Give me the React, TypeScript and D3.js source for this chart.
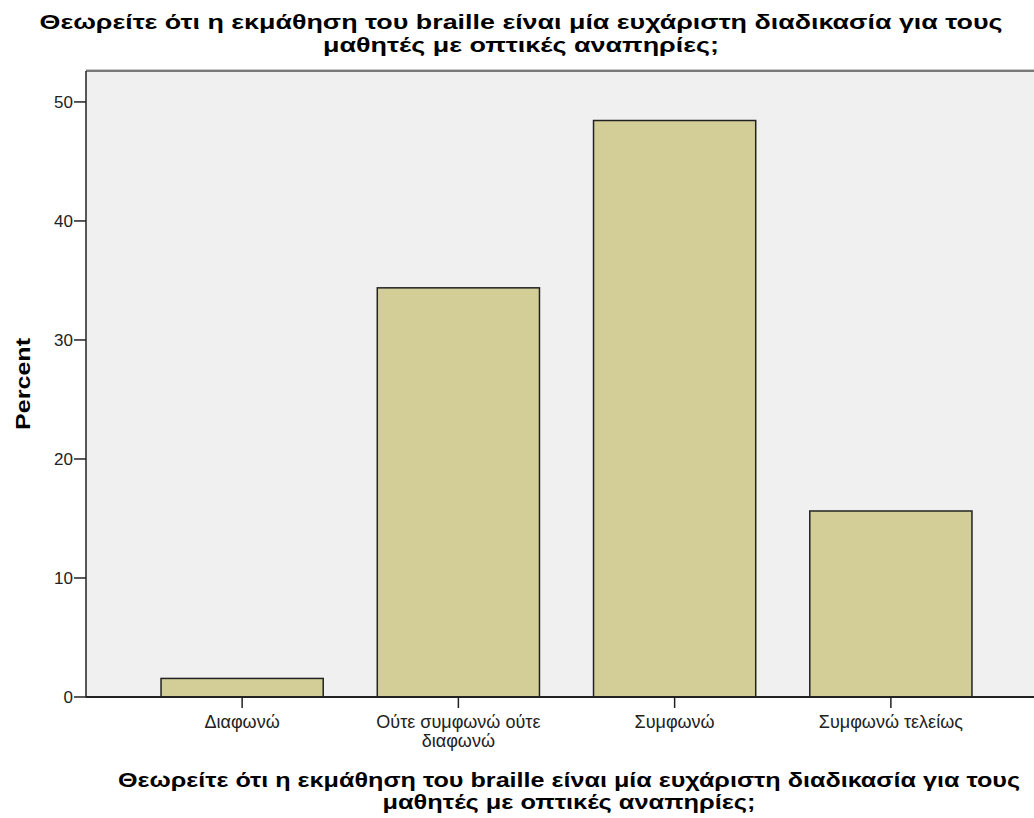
import React from "react";
import * as d3 from "d3";

const categories: string[][] = [
  ["Διαφωνώ"],
  ["Ούτε συμφωνώ ούτε", "διαφωνώ"],
  ["Συμφωνώ"],
  ["Συμφωνώ τελείως"],
];
const percents: number[] = [1.56, 34.38, 48.44, 15.63];
const yTicks: number[] = [0, 10, 20, 30, 40, 50];
const titleLines: string[] = [
  "Θεωρείτε ότι η εκμάθηση του braille είναι μία ευχάριστη διαδικασία για τους",
  "μαθητές με οπτικές αναπηρίες;",
];
const yLabel = "Percent";

const W = 1034;
const H = 818;
const left = 86;
const right = 1047;
const top = 71;
const bottom = 697;

export default function App() {
  const x = d3
    .scaleBand<number>()
    .domain(d3.range(categories.length))
    .range([left, right])
    .paddingInner(0.25)
    .paddingOuter(0.347);
  const y = d3.scaleLinear().domain([0, 52.6]).range([bottom, top]);
  const font = "'Liberation Sans', Arial, sans-serif";

  return (
    <svg
      width={W}
      height={H}
      style={{ position: "absolute", left: 0, top: 0, background: "#fff" }}
      fontFamily={font}
    >
      {/* title */}
      <text x={521} y={29} fontSize={21} fontWeight="bold" textAnchor="middle" textLength={963} lengthAdjust="spacingAndGlyphs" fill="#000">
        {titleLines[0]}
      </text>
      <text x={521} y={52} fontSize={21} fontWeight="bold" textAnchor="middle" textLength={396} lengthAdjust="spacingAndGlyphs" fill="#000">
        {titleLines[1]}
      </text>

      {/* plot background */}
      <rect x={left} y={top} width={right - left} height={bottom - top} fill="#f0f0f0" />
      <line x1={left} x2={W} y1={top - 1.5} y2={top - 1.5} stroke="#c8c8c8" strokeWidth={1} />
      <line x1={left} x2={W} y1={top} y2={top} stroke="#7a7a7a" strokeWidth={2} />

      {/* bars */}
      {percents.map((v, i) => (
        <rect
          key={i}
          x={x(i)!}
          y={y(v)}
          width={x.bandwidth()}
          height={bottom - y(v)}
          fill="#d3ce97"
          stroke="#222"
          strokeWidth={1.5}
        />
      ))}

      {/* y axis */}
      <line x1={left} x2={left} y1={top} y2={bottom} stroke="#222" strokeWidth={1.5} />
      {yTicks.map((t) => (
        <g key={t}>
          <line x1={left - 12} x2={left} y1={y(t)} y2={y(t)} stroke="#222" strokeWidth={1.5} />
          <text x={left - 13} y={y(t) + 6} fontSize={17} textAnchor="end" fill="#222">
            {t}
          </text>
        </g>
      ))}
      <text
        transform={`translate(30,${(top + bottom) / 2}) rotate(-90)`}
        fontSize={20}
        fontWeight="bold"
        textAnchor="middle"
        textLength={92}
        lengthAdjust="spacingAndGlyphs"
        fill="#000"
      >
        {yLabel}
      </text>

      {/* x axis */}
      <line x1={left} x2={W} y1={bottom} y2={bottom} stroke="#222" strokeWidth={2} />
      {categories.map((lines, i) => {
        const cx = x(i)! + x.bandwidth() / 2;
        return (
          <g key={i}>
            <line x1={cx} x2={cx} y1={bottom} y2={bottom + 11} stroke="#222" strokeWidth={1.5} />
            {lines.map((l, j) => (
              <text key={j} x={cx} y={bottom + 31 + j * 19} fontSize={18} textAnchor="middle" fill="#222">
                {l}
              </text>
            ))}
          </g>
        );
      })}

      {/* x title */}
      <text x={569} y={787} fontSize={20} fontWeight="bold" textAnchor="middle" textLength={902} lengthAdjust="spacingAndGlyphs" fill="#000">
        {titleLines[0]}
      </text>
      <text x={569} y={809} fontSize={20} fontWeight="bold" textAnchor="middle" textLength={373} lengthAdjust="spacingAndGlyphs" fill="#000">
        {titleLines[1]}
      </text>
    </svg>
  );
}
